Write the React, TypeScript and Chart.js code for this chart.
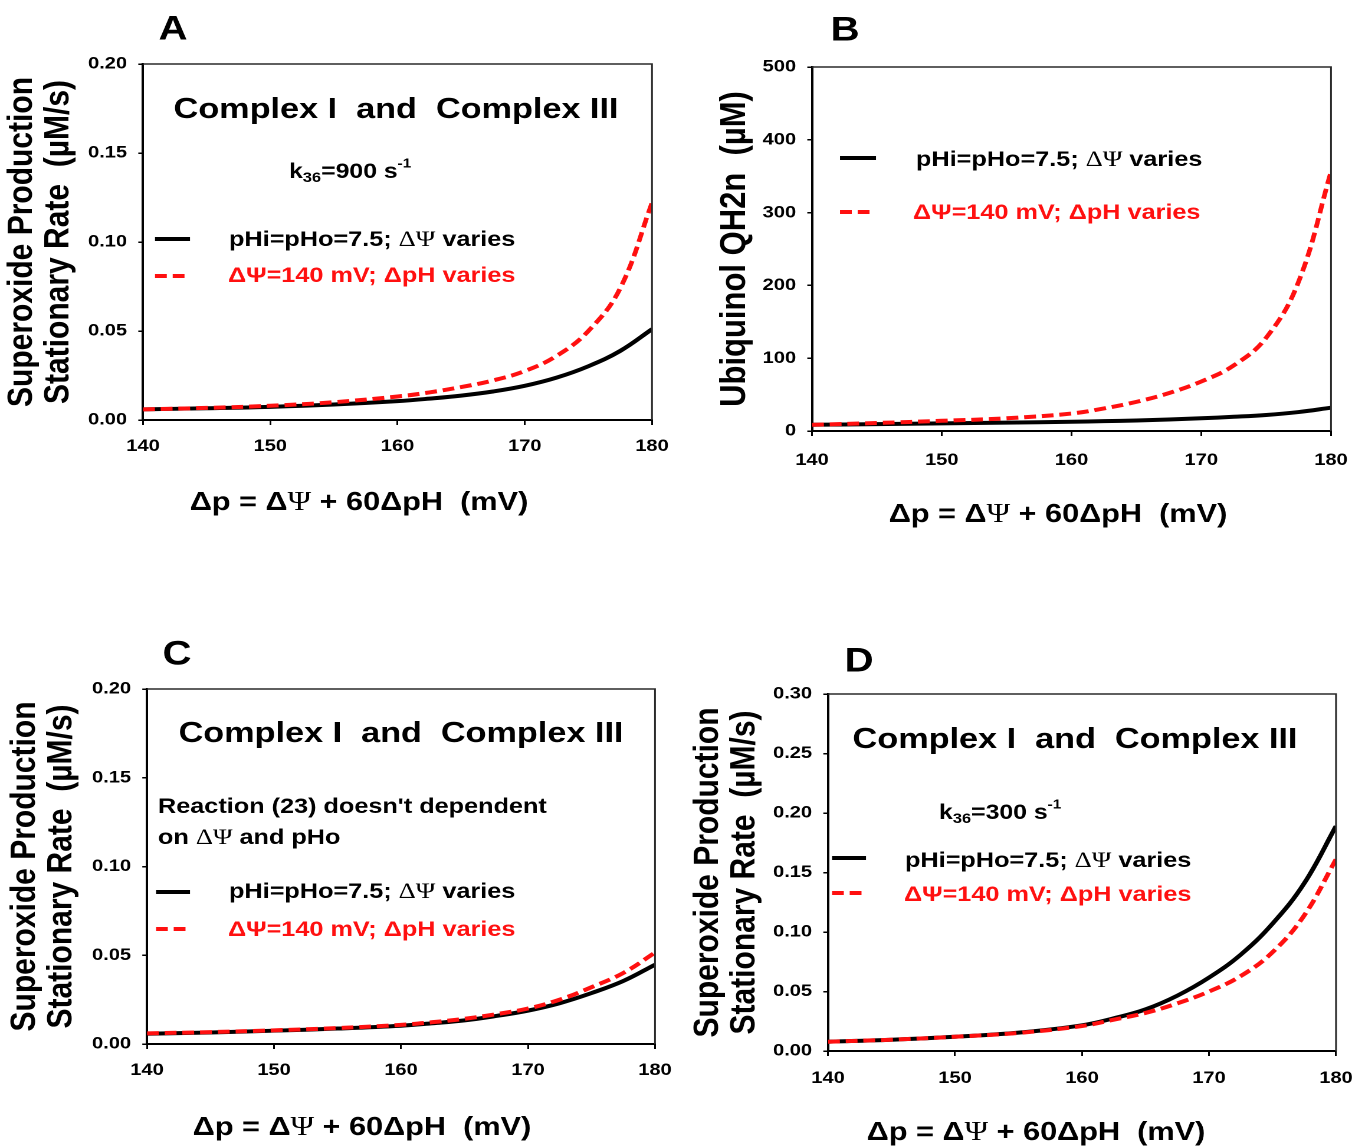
import React, { useEffect, useRef } from 'react';
import { Chart, registerables } from 'chart.js';

Chart.register(...registerables);

// ---------------- data ----------------
const deltaP = [140, 145, 150, 155, 160, 162.5, 165, 167.5, 170, 172.5, 175, 177.5, 180];

const aBlack = [0.006, 0.0066, 0.0074, 0.0087, 0.0106, 0.012, 0.0137, 0.016, 0.0192, 0.0238, 0.0302, 0.0388, 0.051];
const aRed = [0.006, 0.0068, 0.008, 0.01, 0.0132, 0.0155, 0.0185, 0.0222, 0.0275, 0.036, 0.05, 0.074, 0.122];

const bBlack = [8.5, 9.5, 10.5, 11.5, 12.7, 13.5, 14.5, 15.8, 17.5, 19.5, 22, 26, 32];
const bRed = [8.5, 11, 14, 17.5, 24, 31, 40, 52, 68, 90, 128, 205, 356];

const cBlack = [0.0058, 0.0065, 0.0075, 0.0087, 0.0103, 0.0117, 0.0133, 0.0158, 0.0188, 0.023, 0.0287, 0.0355, 0.0447];
const cRed = [0.006, 0.0067, 0.0077, 0.009, 0.0108, 0.0123, 0.0142, 0.0168, 0.02, 0.025, 0.032, 0.04, 0.0515];

const dBlack = [0.0078, 0.0095, 0.012, 0.0154, 0.0216, 0.0275, 0.035, 0.0465, 0.0617, 0.081, 0.107, 0.141, 0.189];
const dRed = [0.0078, 0.0095, 0.012, 0.0152, 0.021, 0.0263, 0.032, 0.04, 0.05, 0.063, 0.083, 0.114, 0.161];

const blackLabel = 'pHi=pHo=7.5; ΔΨ varies';
const redLabel = 'ΔΨ=140 mV; ΔpH varies';
const superoxideTitle = ['Superoxide Production', 'Stationary Rate  (µM/s)'];
const ubiquinolTitle = ['Ubiquinol QH2n  (µM)'];

// ---------------- layout ----------------
const PANEL_W = 676;
const PANEL_H = 574;
const CANVAS_W = 573;
const S = PANEL_W / CANVAS_W; // horizontal stretch of the original figure

const FAM = '"Liberation Sans", Arial, sans-serif';
const sans = (s: number) => `bold ${s}px ${FAM}`;
const serif = (s: number) => `${s}px "Liberation Serif", "Times New Roman", serif`;
const RED = '#ff1010';

type Seg = { t: string; f: string; c?: string; dy?: number };
type TextItem = { segs: Seg[]; x: number; y: number; align: 'left' | 'center' };
type LegendItem = { x1: number; x2: number; y: number; ds: number; segs: Seg[]; tx: number; ty: number };

const xTitle = (): Seg[] => [
  { t: 'Δp = Δ', f: sans(26) },
  { t: 'Ψ', f: serif(27) },
  { t: ' + 60ΔpH  (mV)', f: sans(26) },
];
const blackSegs = (): Seg[] => [
  { t: 'pHi=pHo=7.5; ', f: sans(21.4) },
  { t: 'ΔΨ', f: serif(22.5) },
  { t: ' varies', f: sans(21.4) },
];
const redSegs = (): Seg[] => [{ t: redLabel, f: sans(21.4), c: RED }];
const complexSegs = (): Seg[] => [{ t: 'Complex I  and  Complex III', f: sans(29) }];
const kSegs = (v: string): Seg[] => [
  { t: 'k', f: sans(21) },
  { t: '36', f: sans(14), dy: 6 },
  { t: `=${v} s`, f: sans(21) },
  { t: '-1', f: sans(13), dy: -8 },
];

interface PanelCfg {
  letter: string;
  left: number;
  top: number;
  plotL: number;
  plotR: number;
  plotT: number;
  plotB: number;
  yMax: number;
  yStep: number;
  dec: number;
  yTitle: string[];
  yTitleSize: number;
  yTitlePad: number;
  xTickPad: number;
  black: number[];
  red: number[];
  letterPos: [number, number];
  xTitlePos: [number, number];
  texts: TextItem[];
  legend: LegendItem[];
}

const panels: PanelCfg[] = [
  {
    letter: 'A', left: 0, top: 0, plotL: 143, plotR: 652, plotT: 64, plotB: 420,
    yMax: 0.2, yStep: 0.05, dec: 2, yTitle: superoxideTitle, yTitleSize: 30, yTitlePad: 3, xTickPad: 11,
    black: aBlack, red: aRed, letterPos: [173, 30], xTitlePos: [359, 503],
    texts: [
      { segs: complexSegs(), x: 396, y: 110, align: 'center' },
      { segs: kSegs('900'), x: 289, y: 172, align: 'left' },
    ],
    legend: [
      { x1: 155, x2: 190, y: 239, ds: 0, segs: blackSegs(), tx: 229, ty: 240 },
      { x1: 155, x2: 187, y: 276, ds: 1, segs: redSegs(), tx: 228, ty: 276 },
    ],
  },
  {
    letter: 'B', left: 676, top: 0, plotL: 812, plotR: 1331, plotT: 67, plotB: 431,
    yMax: 500, yStep: 100, dec: 0, yTitle: ubiquinolTitle, yTitleSize: 31, yTitlePad: 34.5, xTickPad: 14,
    black: bBlack, red: bRed, letterPos: [845, 31], xTitlePos: [1058, 515],
    texts: [],
    legend: [
      { x1: 840, x2: 876, y: 158, ds: 0, segs: blackSegs(), tx: 916, ty: 160 },
      { x1: 840, x2: 872, y: 212, ds: 1, segs: redSegs(), tx: 913, ty: 213 },
    ],
  },
  {
    letter: 'C', left: 0, top: 574, plotL: 147, plotR: 655, plotT: 689, plotB: 1044,
    yMax: 0.2, yStep: 0.05, dec: 2, yTitle: superoxideTitle, yTitleSize: 30, yTitlePad: 5.7, xTickPad: 11,
    black: cBlack, red: cRed, letterPos: [177, 655], xTitlePos: [362, 1128],
    texts: [
      { segs: complexSegs(), x: 401, y: 734, align: 'center' },
      { segs: [{ t: "Reaction (23) doesn't dependent", f: sans(21.4) }], x: 158, y: 807, align: 'left' },
      {
        segs: [
          { t: 'on ', f: sans(21.4) },
          { t: 'ΔΨ', f: serif(22.5) },
          { t: ' and pHo', f: sans(21.4) },
        ],
        x: 158, y: 838, align: 'left',
      },
    ],
    legend: [
      { x1: 156, x2: 190, y: 892, ds: 0, segs: blackSegs(), tx: 229, ty: 892 },
      { x1: 156, x2: 186, y: 929, ds: 1, segs: redSegs(), tx: 228, ty: 930 },
    ],
  },
  {
    letter: 'D', left: 676, top: 574, plotL: 828, plotR: 1336, plotT: 694, plotB: 1051,
    yMax: 0.3, yStep: 0.05, dec: 2, yTitle: superoxideTitle, yTitleSize: 30, yTitlePad: 11.6, xTickPad: 12,
    black: dBlack, red: dRed, letterPos: [859, 662], xTitlePos: [1036, 1133],
    texts: [
      { segs: complexSegs(), x: 1075, y: 740, align: 'center' },
      { segs: kSegs('300'), x: 939, y: 813, align: 'left' },
    ],
    legend: [
      { x1: 832, x2: 866, y: 858, ds: 0, segs: blackSegs(), tx: 905, ty: 861 },
      { x1: 832, x2: 862, y: 893, ds: 1, segs: redSegs(), tx: 904, ty: 895 },
    ],
  },
];

function drawRich(ctx: CanvasRenderingContext2D, segs: Seg[], x: number, y: number, align: 'left' | 'center') {
  let total = 0;
  const widths = segs.map((s) => {
    ctx.font = s.f;
    const w = ctx.measureText(s.t).width;
    total += w;
    return w;
  });
  let cx = align === 'center' ? x - total / 2 : x;
  ctx.textAlign = 'left';
  ctx.textBaseline = 'middle';
  segs.forEach((s, i) => {
    ctx.font = s.f;
    ctx.fillStyle = s.c || '#000';
    ctx.fillText(s.t, cx, y + (s.dy || 0));
    cx += widths[i];
  });
}

function Panel({ cfg }: { cfg: PanelCfg }) {
  const ref = useRef<HTMLCanvasElement>(null);

  useEffect(() => {
    const canvas = ref.current;
    if (!canvas) return;
    const lx = (px: number) => (px - cfg.left) / S;
    const ly = (py: number) => py - cfg.top;

    const tickFont = { family: FAM, size: 17, weight: 'bold' as const };

    const overlay = {
      id: 'overlay' + cfg.letter,
      afterDraw(chart: any) {
        const ctx: CanvasRenderingContext2D = chart.ctx;
        const { left, right, top, bottom } = chart.chartArea;
        ctx.save();
        // top & right frame
        ctx.strokeStyle = '#2a2a2a';
        ctx.lineWidth = 1.5;
        ctx.beginPath();
        ctx.moveTo(left, top);
        ctx.lineTo(right, top);
        ctx.lineTo(right, bottom);
        ctx.stroke();

        // panel letter
        drawRich(ctx, [{ t: cfg.letter, f: sans(34) }], lx(cfg.letterPos[0]), ly(cfg.letterPos[1]), 'center');
        // x axis title
        drawRich(ctx, xTitle(), lx(cfg.xTitlePos[0]), ly(cfg.xTitlePos[1]), 'center');
        // annotations
        cfg.texts.forEach((t) => drawRich(ctx, t.segs, lx(t.x), ly(t.y), t.align));
        // legend
        cfg.legend.forEach((it) => {
          const ds = chart.data.datasets[it.ds];
          ctx.save();
          ctx.strokeStyle = ds.borderColor;
          ctx.lineWidth = 4;
          ctx.setLineDash(ds.borderDash || []);
          ctx.beginPath();
          ctx.moveTo(lx(it.x1), ly(it.y));
          ctx.lineTo(lx(it.x2), ly(it.y));
          ctx.stroke();
          ctx.restore();
          drawRich(ctx, it.segs, lx(it.tx), ly(it.ty), 'left');
        });
        ctx.restore();
      },
    };

    const chart = new Chart(canvas, {
      type: 'line',
      data: {
        datasets: [
          {
            label: blackLabel,
            data: deltaP.map((x, i) => ({ x, y: cfg.black[i] })),
            borderColor: '#000',
            borderWidth: 4,
            pointRadius: 0,
            tension: 0.4,
            fill: false,
            order: 1,
          },
          {
            label: redLabel,
            data: deltaP.map((x, i) => ({ x, y: cfg.red[i] })),
            borderColor: RED,
            borderWidth: 4,
            borderDash: [10, 5],
            pointRadius: 0,
            tension: 0.4,
            fill: false,
            order: 0,
          },
        ],
      },
      options: {
        responsive: false,
        animation: false,
        devicePixelRatio: 2,
        layout: {
          padding: {
            left: 0,
            top: ly(cfg.plotT),
            right: CANVAS_W - lx(cfg.plotR),
            bottom: 0,
          },
        },
        plugins: {
          legend: { display: false },
          tooltip: { enabled: false },
          title: { display: false },
        },
        scales: {
          x: {
            type: 'linear',
            min: 140,
            max: 180,
            ticks: {
              stepSize: 10,
              font: tickFont,
              color: '#000',
              padding: cfg.xTickPad,
              maxRotation: 0,
              autoSkip: false,
            },
            grid: {
              drawOnChartArea: false,
              drawTicks: true,
              tickLength: 5,
              color: '#000',
              lineWidth: 1.5,
            },
            border: { display: true, color: '#000', width: 2 },
            afterFit: (scale: any) => {
              scale.height = PANEL_H - ly(cfg.plotB);
              scale.paddingLeft = 0;
              scale.paddingRight = 0;
            },
          },
          y: {
            type: 'linear',
            min: 0,
            max: cfg.yMax,
            ticks: {
              stepSize: cfg.yStep,
              font: tickFont,
              color: '#000',
              padding: 9.5,
              callback: (v: any) => Number(v).toFixed(cfg.dec),
            },
            grid: {
              drawOnChartArea: false,
              drawTicks: true,
              tickLength: 4,
              color: '#000',
              lineWidth: 1.5,
            },
            border: { display: true, color: '#000', width: 2 },
            title: {
              display: true,
              text: cfg.yTitle,
              color: '#000',
              font: { family: FAM, size: cfg.yTitleSize, weight: 'bold', lineHeight: 31 / cfg.yTitleSize },
              padding: { top: cfg.yTitlePad, bottom: 0 },
            },
            afterFit: (scale: any) => {
              scale.width = lx(cfg.plotL);
              scale.paddingTop = 0;
              scale.paddingBottom = 0;
            },
          },
        },
      },
      plugins: [overlay],
    } as any);

    return () => chart.destroy();
  }, [cfg]);

  return (
    <div
      style={{
        position: 'absolute',
        left: cfg.left,
        top: cfg.top,
        width: CANVAS_W,
        height: PANEL_H,
        transform: `scaleX(${S})`,
        transformOrigin: '0 0',
      }}
    >
      <canvas ref={ref} width={CANVAS_W} height={PANEL_H} style={{ display: 'block' }} />
    </div>
  );
}

export default function App() {
  return (
    <div
      style={{
        position: 'absolute',
        left: 0,
        top: 0,
        width: 1352,
        height: 1148,
        background: '#fff',
        overflow: 'hidden',
      }}
    >
      {panels.map((p) => (
        <Panel key={p.letter} cfg={p} />
      ))}
    </div>
  );
}
